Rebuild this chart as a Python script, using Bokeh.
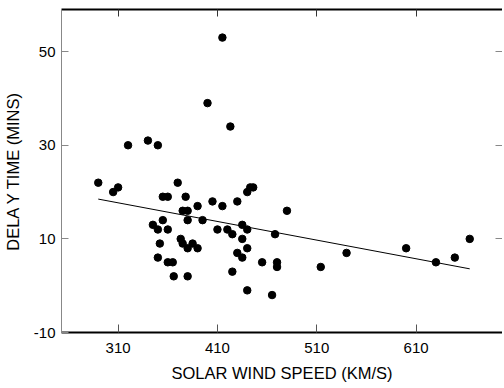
from bokeh.plotting import figure
from bokeh.models import FixedTicker, LinearAxis, Range1d
from bokeh.embed import file_html
from bokeh.resources import INLINE

speed = [290, 305, 310, 320, 340, 350, 370, 355, 360, 378, 390, 405, 415, 430,
         440, 443, 446, 375, 380, 380, 395, 345, 355, 350, 360, 410, 420, 425,
         435, 440, 468, 435, 373, 375, 380, 385, 390, 352, 350, 360, 365, 430,
         435, 440, 455, 470, 470, 425, 366, 380, 440, 465, 480, 514, 540, 600,
         630, 649, 664, 415, 400, 423]
delay = [22, 20, 21, 30, 31, 30, 22, 19, 19, 19, 17, 18, 17, 18,
         20, 21, 21, 16, 16, 14, 14, 13, 14, 12, 12, 12, 12, 11,
         13, 12, 11, 10, 10, 9, 8, 9, 8, 9, 6, 5, 5, 7,
         6, 8, 5, 5, 4, 3, 2, 2, -1, -2, 16, 4, 7, 8,
         5, 6, 10, 53, 39, 34]
fit_speed = [290, 664]
fit_delay = [18.5, 3.6]
x_ticks = [310, 410, 510, 610]
y_ticks = [-10, 10, 30, 50]
y_right_ticks = [10, 30, 50]
y_tick_labels = {-10: "-10", 10: "10", 30: "30", 50: "50"}

FONT = "Liberation Sans"

p = figure(width=502, height=386, x_range=Range1d(253, 697), y_range=Range1d(-10, 59),
           output_backend="svg", toolbar_location=None,
           min_border_left=60, min_border_right=0, min_border_top=9, min_border_bottom=54,
           x_axis_location=None, y_axis_location=None)
p.grid.visible = False
p.outline_line_color = None
p.background_fill_color = "white"
p.border_fill_color = "white"

bottom = LinearAxis(ticker=FixedTicker(ticks=x_ticks), axis_label="SOLAR WIND SPEED (KM/S)",
                    axis_line_width=2, axis_line_color="black",
                    major_tick_in=8, major_tick_out=0, minor_tick_line_color=None,
                    major_tick_line_color="#555555",
                    major_label_standoff=10, axis_label_standoff=8,
                    major_label_text_font=FONT, major_label_text_font_size="15px",
                    major_label_text_color="black",
                    axis_label_text_font=FONT, axis_label_text_font_size="16.5px",
                    axis_label_text_font_style="normal", axis_label_text_color="black")
p.add_layout(bottom, "below")

left = LinearAxis(ticker=FixedTicker(ticks=y_ticks), axis_label="DELA Y TIME (MINS)",
                  major_label_overrides=y_tick_labels,
                  axis_line_width=1, axis_line_color="#888888",
                  major_tick_in=7, major_tick_out=0, minor_tick_line_color=None,
                  major_tick_line_color="#888888",
                  major_label_standoff=6, axis_label_standoff=9,
                  major_label_text_font=FONT, major_label_text_font_size="15px",
                  major_label_text_color="black",
                  axis_label_text_font=FONT, axis_label_text_font_size="16.5px",
                  axis_label_text_font_style="normal", axis_label_text_color="black")
p.add_layout(left, "left")

top = LinearAxis(ticker=FixedTicker(ticks=x_ticks), axis_line_width=2, axis_line_color="black",
                 major_tick_in=7, major_tick_out=0, minor_tick_line_color=None,
                 major_tick_line_color="#333333", major_label_standoff=0,
                 axis_label_standoff=0,
                 major_label_text_font_size="0px", major_label_text_color=None)
p.add_layout(top, "above")

right = LinearAxis(ticker=FixedTicker(ticks=y_right_ticks), axis_line_color=None,
                   major_tick_in=7, major_tick_out=0, minor_tick_line_color=None,
                   major_tick_line_color="#888888", major_label_standoff=0,
                   axis_label_standoff=0,
                   major_label_text_font_size="0px", major_label_text_color=None)
p.add_layout(right, "right")

p.line(fit_speed, fit_delay, line_color="black", line_width=1)
p.scatter(speed, delay, size=7.5, color="black")

open("out.html", "w").write(file_html(p, INLINE))
